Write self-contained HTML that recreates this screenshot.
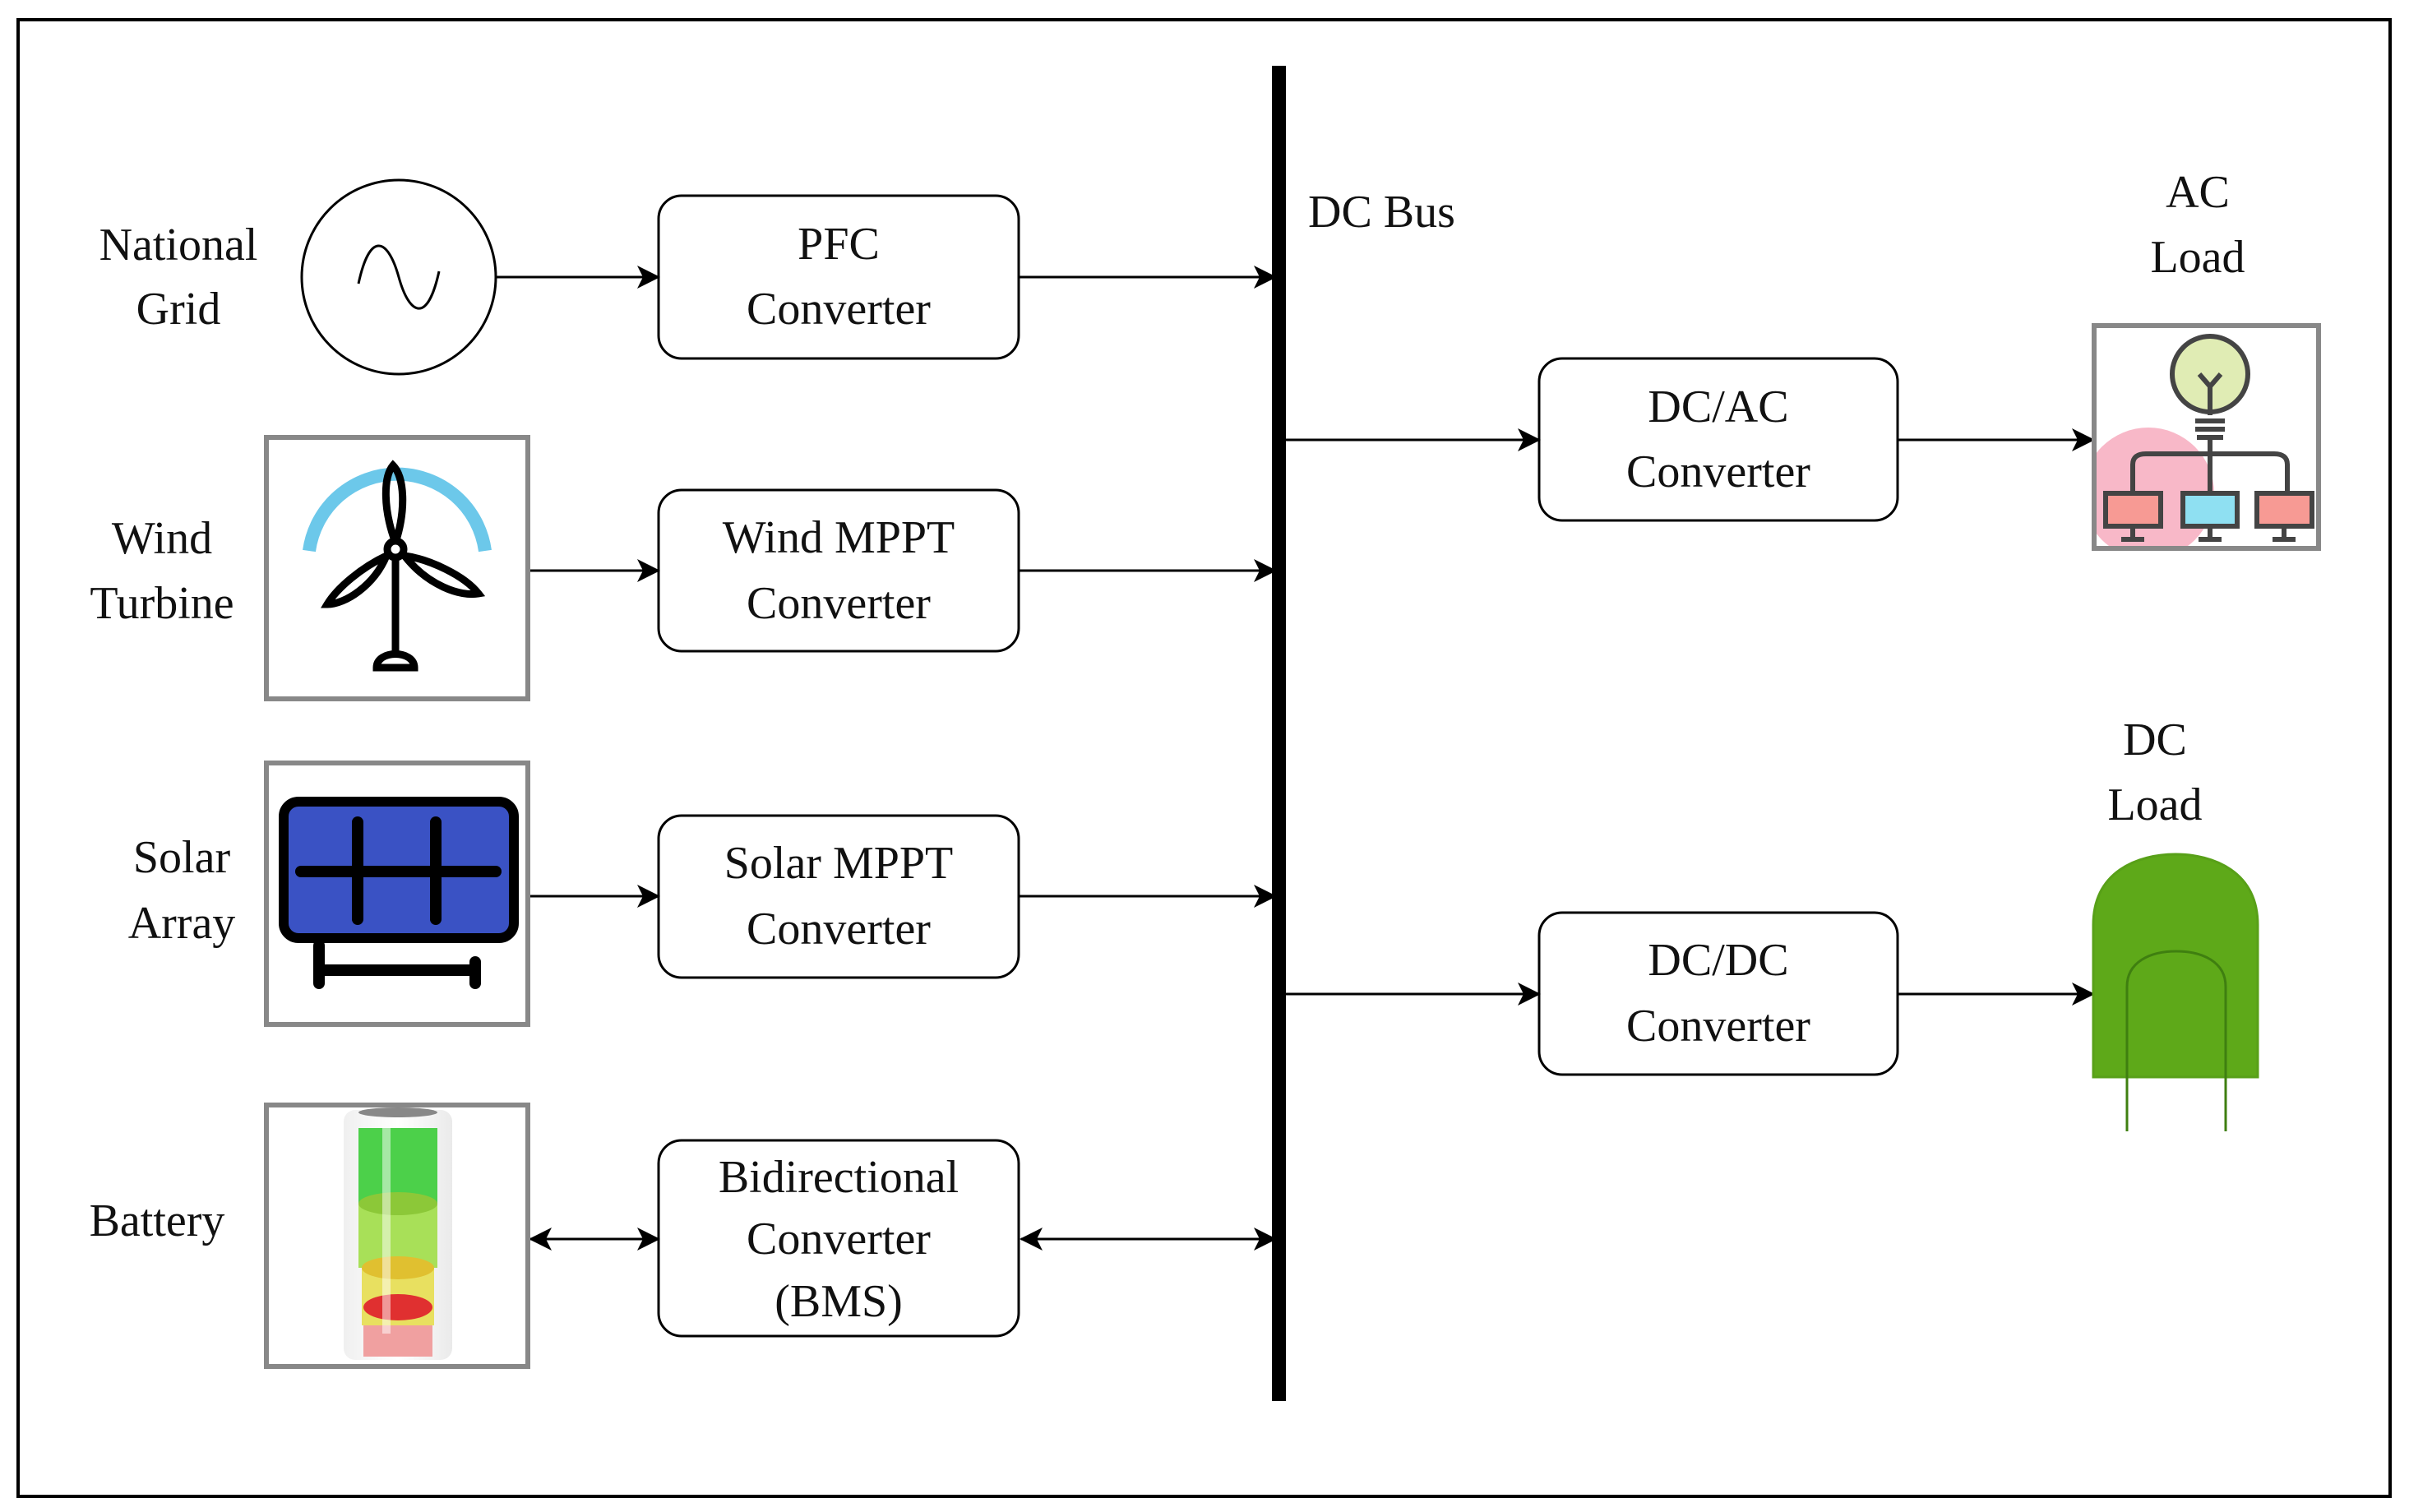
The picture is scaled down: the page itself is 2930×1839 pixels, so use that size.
<!DOCTYPE html>
<html><head><meta charset="utf-8"><style>
html,body{margin:0;padding:0;background:#fff}
svg{display:block}
text{font-family:"Liberation Serif",serif;font-size:56px;fill:#111}
</style></head><body>
<svg width="2930" height="1839" viewBox="0 0 2930 1839" xmlns="http://www.w3.org/2000/svg">
<defs>
<marker id="b" markerWidth="28" markerHeight="28" refX="26" refY="14" orient="auto-start-reverse" markerUnits="userSpaceOnUse" viewBox="0 0 28 28">
<path d="M0,0 L28,14 L0,28 L7,14 Z" fill="#000"/></marker>
<clipPath id="acc"><rect x="2550" y="399" width="267" height="265"/></clipPath>
<linearGradient id="gl" x1="0" x2="1"><stop offset="0" stop-color="#eee"/><stop offset="0.5" stop-color="#fff"/><stop offset="1" stop-color="#e8e8e8"/></linearGradient>
</defs>
<rect x="22" y="24" width="2885" height="1796" fill="none" stroke="#000" stroke-width="4"/>
<rect x="1547" y="80" width="17" height="1624" fill="#000"/>
<text x="1591" y="258" dominant-baseline="central">DC Bus</text>

<circle cx="485" cy="337" r="118" fill="none" stroke="#000" stroke-width="3"/>
<path d="M436,345 C450,280 472,290 485,337 C498,384 520,394 534,330" fill="none" stroke="#000" stroke-width="3"/>
<text x="217" y="298" text-anchor="middle" dominant-baseline="central">National</text>
<text x="217" y="376" text-anchor="middle" dominant-baseline="central">Grid</text>

<g fill="#fff" stroke="#000" stroke-width="3">
<rect x="801" y="238" width="438" height="198" rx="28"/>
<rect x="801" y="596" width="438" height="196" rx="28"/>
<rect x="801" y="992" width="438" height="197" rx="28"/>
<rect x="801" y="1387" width="438" height="238" rx="28"/>
<rect x="1872" y="436" width="436" height="197" rx="28"/>
<rect x="1872" y="1110" width="436" height="197" rx="28"/>
</g>
<g text-anchor="middle" dominant-baseline="central">
<text x="1020" y="297">PFC</text><text x="1020" y="376">Converter</text>
<text x="1020" y="654">Wind MPPT</text><text x="1020" y="734">Converter</text>
<text x="1020" y="1050">Solar MPPT</text><text x="1020" y="1130">Converter</text>
<text x="1020" y="1432">Bidirectional</text><text x="1020" y="1507">Converter</text><text x="1020" y="1583">(BMS)</text>
<text x="2090" y="495">DC/AC</text><text x="2090" y="574">Converter</text>
<text x="2090" y="1168">DC/DC</text><text x="2090" y="1248">Converter</text>
</g>

<g stroke="#000" stroke-width="3" fill="none">
<line x1="603" y1="337" x2="801" y2="337" marker-end="url(#b)"/>
<line x1="1239" y1="337" x2="1551" y2="337" marker-end="url(#b)"/>
<line x1="642" y1="694" x2="801" y2="694" marker-end="url(#b)"/>
<line x1="1239" y1="694" x2="1551" y2="694" marker-end="url(#b)"/>
<line x1="642" y1="1090" x2="801" y2="1090" marker-end="url(#b)"/>
<line x1="1239" y1="1090" x2="1551" y2="1090" marker-end="url(#b)"/>
<line x1="645" y1="1507" x2="801" y2="1507" marker-start="url(#b)" marker-end="url(#b)"/>
<line x1="1242" y1="1507" x2="1551" y2="1507" marker-start="url(#b)" marker-end="url(#b)"/>
<line x1="1564" y1="535" x2="1872" y2="535" marker-end="url(#b)"/>
<line x1="2308" y1="535" x2="2546" y2="535" marker-end="url(#b)"/>
<line x1="1564" y1="1209" x2="1872" y2="1209" marker-end="url(#b)"/>
<line x1="2308" y1="1209" x2="2546" y2="1209" marker-end="url(#b)"/>
</g>

<rect x="324" y="532" width="318" height="318" fill="#fff" stroke="#888" stroke-width="6"/>
<path d="M376,670 A108,108 0 0 1 590,670" fill="none" stroke="#6cc8ea" stroke-width="16"/>
<g stroke="#000" stroke-width="9" fill="none" stroke-linecap="round">
<line x1="481" y1="678" x2="481" y2="798"/>
<path d="M481,660 C466,620 466,580 478,566 C492,580 494,620 481,660 Z"/>
<path d="M470,676 C440,690 410,715 398,735 C420,735 455,712 470,676 Z"/>
<path d="M492,676 C522,680 565,700 582,722 C560,726 520,712 492,676 Z"/>
<circle cx="481" cy="668" r="10" fill="#fff"/>
<path d="M458,812 C458,790 504,790 504,812 Z" fill="#fff"/>
</g>
<text x="197" y="655" text-anchor="middle" dominant-baseline="central">Wind</text>
<text x="197" y="734" text-anchor="middle" dominant-baseline="central">Turbine</text>

<rect x="324" y="928" width="318" height="318" fill="#fff" stroke="#888" stroke-width="6"/>
<rect x="345" y="975" width="280" height="166" rx="18" fill="#3a52c4" stroke="#000" stroke-width="12"/>
<g stroke="#000" stroke-width="14" stroke-linecap="round">
<line x1="366" y1="1060" x2="603" y2="1060"/>
<line x1="435" y1="1000" x2="435" y2="1118"/>
<line x1="530" y1="1000" x2="530" y2="1118"/>
<line x1="388" y1="1150" x2="388" y2="1196"/>
<line x1="388" y1="1180" x2="578" y2="1180"/>
<line x1="578" y1="1170" x2="578" y2="1196"/>
</g>
<text x="221" y="1043" text-anchor="middle" dominant-baseline="central">Solar</text>
<text x="221" y="1123" text-anchor="middle" dominant-baseline="central">Array</text>

<rect x="324" y="1344" width="318" height="318" fill="#fff" stroke="#888" stroke-width="6"/>
<rect x="418" y="1350" width="132" height="304" rx="14" fill="url(#gl)" opacity="0.9"/>
<ellipse cx="484" cy="1353" rx="48" ry="6" fill="#888"/>
<rect x="436" y="1372" width="96" height="92" fill="#4cd04a"/>
<rect x="436" y="1464" width="96" height="78" fill="#a8e058"/>
<ellipse cx="484" cy="1464" rx="48" ry="14" fill="#8cc838"/>
<rect x="440" y="1542" width="88" height="70" fill="#e8e060"/>
<ellipse cx="484" cy="1542" rx="44" ry="14" fill="#e0c030"/>
<rect x="442" y="1612" width="84" height="38" fill="#f0a0a0"/>
<ellipse cx="484" cy="1590" rx="42" ry="16" fill="#e03030"/>
<rect x="465" y="1372" width="10" height="250" fill="#fff" opacity="0.5"/>
<text x="191" y="1485" text-anchor="middle" dominant-baseline="central">Battery</text>

<text x="2673" y="234" text-anchor="middle" dominant-baseline="central">AC</text>
<text x="2673" y="313" text-anchor="middle" dominant-baseline="central">Load</text>
<rect x="2547" y="396" width="273" height="271" fill="#fff" stroke="#888" stroke-width="6"/>
<g clip-path="url(#acc)">
<circle cx="2613" cy="600" r="80" fill="#f8b8c8"/>
</g>
<g stroke="#444" stroke-width="6" fill="none">
<circle cx="2688" cy="455" r="46" fill="#e0ecb4"/>
<path d="M2688,505 L2688,470 M2688,470 L2675,455 M2688,470 L2701,455"/>
<line x1="2670" y1="512" x2="2706" y2="512"/><line x1="2670" y1="522" x2="2706" y2="522"/><line x1="2672" y1="532" x2="2704" y2="532"/>
<path d="M2688,535 L2688,600 M2594,600 L2594,565 Q2594,552 2610,552 L2766,552 Q2782,552 2782,565 L2782,600"/>
<rect x="2561" y="600" width="67" height="40" fill="#f79a94"/>
<rect x="2655" y="600" width="66" height="40" fill="#8fe0f2"/>
<rect x="2745" y="600" width="67" height="40" fill="#f79a94"/>
<path d="M2594,640 L2594,656 M2580,656 L2608,656 M2688,640 L2688,656 M2674,656 L2702,656 M2778,640 L2778,656 M2764,656 L2792,656"/>
</g>

<text x="2621" y="900" text-anchor="middle" dominant-baseline="central">DC</text>
<text x="2621" y="979" text-anchor="middle" dominant-baseline="central">Load</text>
<path d="M2546,1310 L2546,1125 C2546,1060 2600,1039 2646,1039 C2692,1039 2746,1060 2746,1125 L2746,1310 Z" fill="#5ea919" stroke="#58a018" stroke-width="3"/>
<path d="M2587,1376 L2587,1200 C2587,1170 2615,1157 2647,1157 C2679,1157 2707,1170 2707,1200 L2707,1376" fill="none" stroke="#3f7f10" stroke-width="3"/>
</svg>
</body></html>
